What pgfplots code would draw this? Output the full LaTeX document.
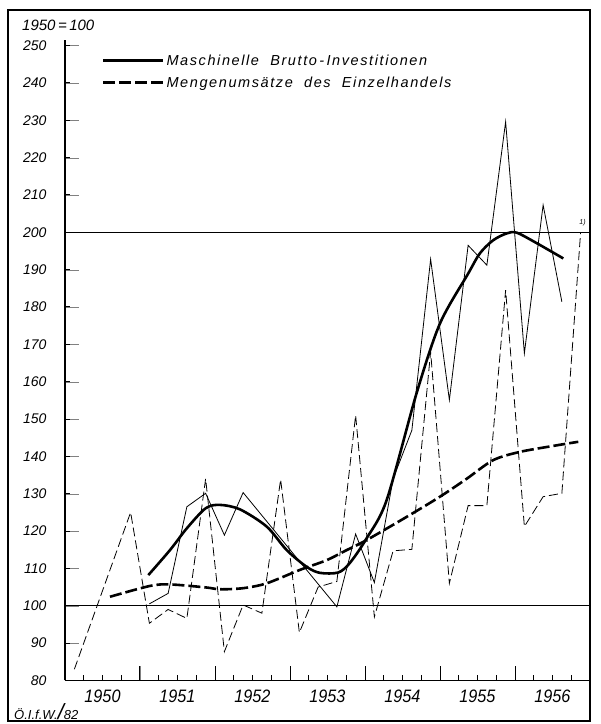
\documentclass[border=0pt]{standalone}
\usepackage{fontspec}
\setmainfont{Liberation Sans}
\newfontfamily\legfont[LetterSpace=11]{Liberation Sans}
\usepackage{pgfplots}
\pgfplotsset{compat=1.18}
\begin{document}
\begin{tikzpicture}
\useasboundingbox (0pt,0pt) rectangle (601pt,724pt);
% frame
\draw[line width=2.6pt] (8pt,3pt) -- (8pt,714pt);
\draw[line width=2pt] (7pt,714pt) -- (591pt,714pt);
\draw[line width=1.6pt] (7pt,3pt) -- (591pt,3pt);
\draw[line width=1.4pt] (590pt,3pt) -- (590pt,714pt);
\node[anchor=west,font=\fontsize{15}{15}\selectfont\itshape,inner sep=0pt] at (22pt,699pt) {1950\,=\,100};
\node[anchor=west,inner sep=0pt,font=\itshape] at (14pt,12pt) {{\fontsize{13}{13}\selectfont Ö.I.f.W.}{\fontsize{22}{22}\selectfont/}{\fontsize{13}{13}\selectfont 82}};
\begin{axis}[
  at={(65pt,43.6pt)}, anchor=south west,
  scale only axis, width=525pt, height=640.4pt,
  xmin=1950, xmax=1957, ymin=80, ymax=251.5,
  axis x line*=bottom, axis y line*=left,
  axis line style={line width=1.3pt,-},
  tick align=inside,
  major tick length=14pt, minor tick length=5pt,
  /pgf/number format/assume math mode=true,
  xtick={1950,...,1956},
  xticklabels={1950,1951,1952,1953,1954,1955,1956},
  ytick={80,90,...,250},
  xticklabel style={xshift=37.5pt,yshift=-6pt,font=\fontsize{18}{18}\selectfont\itshape,xscale=0.9},
  yticklabel style={anchor=east,xshift=-15pt,font=\fontsize{14}{14}\selectfont\itshape},
  legend style={at={(axis cs:1950.45,248.7)}, anchor=north west, draw=none, fill=none,
     font=\fontsize{14.5}{16}\selectfont\legfont\itshape, row sep=6pt},
  legend cell align=left,
  legend image code/.code={\draw[#1] (0pt,0pt) -- (60pt,0pt);},
  clip=false,
]
% tick marks
\pgfplotsinvokeforeach{1951,1952,1953,1954,1955,1956}{
  \draw[line width=1pt] (axis cs:#1,80) -- ++(0pt,14pt);}
\pgfplotsinvokeforeach{1950.25,1950.5,1950.75,1951.25,1951.5,1951.75,1952.25,1952.5,1952.75,1953.25,1953.5,1953.75,1954.25,1954.5,1954.75,1955.25,1955.5,1955.75,1956.25,1956.5,1956.75}{
  \draw[line width=1pt] (axis cs:#1,80) -- ++(0pt,5pt);}
\pgfplotsinvokeforeach{90,110,120,130,140,150,160,170,180,190,210,220,230,240,250}{
  \draw[line width=1pt] (axis cs:1950,#1) -- ++(5pt,0pt);}
% reference lines
\addplot[forget plot, line width=1.3pt] coordinates {(1950,100) (1957,100)};
\addplot[forget plot, line width=1.3pt] coordinates {(1950,200) (1957,200)};
% trends (legend)
\addplot[black, line width=2.6pt, smooth, tension=0.5] coordinates {
(1951.111,108.2) (1951.40,114.9) (1951.623,120.7) (1951.876,126.1) (1952.067,127.0)
(1952.333,125.8) (1952.689,121.2) (1952.956,114.9) (1953.223,110.4) (1953.40,108.8)
(1953.644,108.9) (1953.80,111.5) (1954.02,118) (1954.289,128.3) (1954.689,157)
(1955.0,175.6) (1955.377,189) (1955.533,194.4) (1955.711,197.9) (1955.889,199.7)
(1956.023,199.9) (1956.289,197.1) (1956.644,193)};
\addlegendentry{Maschinelle\ \ Brutto\,-\,Investitionen}
\addplot[black, line width=2.6pt, dash pattern=on 12pt off 4pt, smooth, tension=0.5] coordinates {
(1950.6,102.4) (1951.133,105.3) (1951.4,105.7) (1951.876,104.9) (1952.067,104.4)
(1952.377,104.7) (1952.689,106.0) (1953.133,109.6) (1953.489,112.2) (1953.756,114.9)
(1954.023,117.6) (1954.556,123.8) (1955.0,129.2) (1955.356,134) (1955.711,139.0)
(1956.067,141.2) (1956.511,142.8) (1956.844,143.9)};
\addlegendentry{Mengenumsätze\ \ des\ \ Einzelhandels}
% quarterly values
\addplot[forget plot, black, line width=0.8pt] coordinates {
(1951.125,100.5) (1951.375,103.3) (1951.625,126.5) (1951.875,130.1) (1952.125,118.9)
(1952.375,130.3) (1953.625,99.7) (1953.875,119.2) (1954.125,106.2) (1954.375,134)
(1954.625,147) (1954.875,192.8) (1955.125,155.1) (1955.375,196.5) (1955.625,191.2)
(1955.875,229.6) (1956.125,167.6) (1956.375,207.3) (1956.625,181.4)};
\addplot[forget plot, black, line width=0.8pt, dash pattern=on 9pt off 4pt] coordinates {
(1950.125,83) (1950.875,125) (1951.125,95.3) (1951.375,99) (1951.625,96.6)
(1951.875,134) (1952.125,87.7) (1952.375,100.2) (1952.625,98) (1952.875,133.8)
(1953.125,92.8) (1953.375,105) (1953.625,106.5) (1953.875,151) (1954.125,97)
(1954.375,114.7) (1954.625,115.1) (1954.875,168) (1955.125,106) (1955.375,126.8)
(1955.625,126.8) (1955.875,184.5) (1956.125,121.2) (1956.375,129.2) (1956.625,130.1)
(1956.875,200)};
\node[anchor=south,font=\fontsize{7}{7}\selectfont\itshape,inner sep=1pt] at (axis cs:1956.9,201.5) {1)};
\end{axis}
\end{tikzpicture}
\end{document}
